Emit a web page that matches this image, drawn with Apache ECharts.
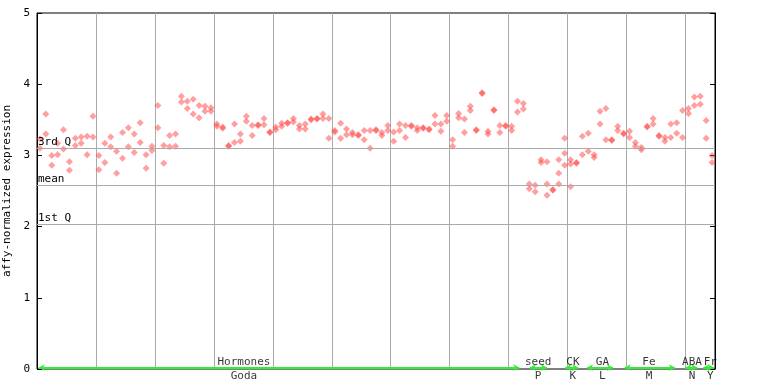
<!DOCTYPE html>
<html><head><meta charset="utf-8">
<script src="https://cdn.jsdelivr.net/npm/echarts/dist/echarts.min.js"></script>
<style>html,body{margin:0;padding:0;background:#fff}#c{width:768px;height:384px}</style>
</head><body><div id="c"></div>
<script>
// replicate values for each sample (column), left to right
const sampleValues = [
 [3.23,3.10],[3.58,3.30],[3.00,2.86],[3.17,3.01],[3.36,3.09],[2.91,2.79],[3.24,3.14],[3.26,3.17],[3.27,3.01],[3.55,3.26],
 [3.00,2.80],[3.17,2.90],[3.26,3.12],[3.06,2.75],[3.32,2.96],[3.39,3.12],[3.30,3.04],[3.46,3.18],[3.01,2.82],[3.13,3.07],
 [3.70,3.39],[3.14,2.89],[3.28,3.12],[3.30,3.13],[3.83,3.75],[3.76,3.66],[3.79,3.58],[3.70,3.53],[3.69,3.62],[3.67,3.62],
 [3.44,3.41],[3.40,3.38],[3.14,3.13],[3.44,3.18],[3.30,3.20],[3.55,3.48],[3.42,3.28],[3.43,3.42],[3.52,3.43],[3.33,3.32],
 [3.40,3.36],[3.45,3.41],[3.46,3.45],[3.52,3.47],[3.42,3.37],[3.44,3.37],[3.51,3.50],[3.52,3.51],[3.58,3.52],[3.52,3.24],
 [3.35,3.33],[3.45,3.24],[3.37,3.29],[3.32,3.29],[3.29,3.28],[3.35,3.22],[3.35,3.10],[3.36,3.35],[3.32,3.28],[3.42,3.35],
 [3.33,3.20],[3.44,3.35],[3.42,3.25],[3.42,3.41],[3.39,3.35],[3.39,3.38],[3.37,3.36],[3.56,3.44],[3.44,3.34],[3.56,3.48],
 [3.22,3.13],[3.59,3.53],[3.51,3.32],[3.69,3.63],[3.36,3.35],[3.88,3.87],[3.34,3.30],[3.64,3.63],[3.42,3.32],[3.42,3.41],
 [3.41,3.35],[3.76,3.61],[3.73,3.65],[2.60,2.53],[2.58,2.49],[2.94,2.90],[2.91,2.60,2.44],[2.52,2.51],[2.94,2.75,2.60],[3.24,3.03,2.86],
 [2.94,2.88,2.56],[2.90,2.89],[3.27,3.01],[3.31,3.06],[3.01,2.97],[3.62,3.44],[3.66,3.22],[3.22,3.21],[3.41,3.35],[3.31,3.30],
 [3.34,3.25],[3.18,3.13],[3.11,3.08],[3.41,3.40],[3.52,3.44],[3.28,3.27],[3.25,3.20],[3.44,3.25],[3.46,3.31],[3.63,3.25],
 [3.66,3.59],[3.82,3.70],[3.83,3.72],[3.49,3.24],[3.00,2.90]
];
const quartileNames = ['3rd Q','mean','1st Q'];
const quartileValues = [3.10, 2.58, 2.03];
const yTickValues = [0,1,2,3,4,5];
const groupUpper = ['Hormones','seed','CK','GA','Fe','ABA','Fr'];
const groupLower = ['Goda','P','K','L','M','N','Y'];
const groupLabelAt = [35.1, 85.0, 90.9, 95.9, 103.8, 111.1, 114.2];
const groupStart = [0.3, 83.6, 89.6, 93.3, 99.7, 110.0, 113.0];
const groupEnd   = [81.8, 86.5, 91.8, 97.7, 108.2, 112.0, 114.8];

const FONT = '"DejaVu Sans Mono", monospace';
const nCols = sampleValues.length;
const points = [];
sampleValues.forEach((vals, i) => vals.forEach(v => points.push([i + 0.5, v])));

const upperLabels = groupUpper.map((t, i) => ({value: [groupLabelAt[i], 0], name: t}));
const lowerLabels = groupLower.map((t, i) => ({value: [groupLabelAt[i], 0], name: t}));
const greenSegs = groupStart.map((s, i) => [{coord: [s, 0.02]}, {coord: [groupEnd[i], 0.02]}]);

const chart = echarts.init(document.getElementById('c'), null, {renderer: 'canvas'});
chart.setOption({
  animation: false,
  grid: {left: 37, right: 53, top: 13, bottom: 15, show: true, borderColor: '#000', borderWidth: 1,
         backgroundColor: 'transparent', containLabel: false, outerBoundsMode: 'none'},
  xAxis: {
    type: 'value', min: 0, max: nCols, interval: 10,
    axisLine: {show: false}, axisTick: {show: false}, axisLabel: {show: false},
    splitLine: {show: true, lineStyle: {color: '#aaaaaa', width: 1}}
  },
  yAxis: [{
    type: 'value', min: yTickValues[0], max: yTickValues[yTickValues.length - 1], interval: 1,
    name: 'affy-normalized expression', nameLocation: 'middle', nameGap: 17,
    nameTextStyle: {fontFamily: FONT, fontSize: 11, color: '#000'},
    axisLine: {show: true, lineStyle: {color: '#000'}},
    axisTick: {show: true, inside: true, length: 5, lineStyle: {color: '#000'}},
    axisLabel: {fontFamily: FONT, fontSize: 11, color: '#000', margin: 7},
    splitLine: {show: false}
  }, {
    type: 'value', position: 'right', min: 0, max: 5, interval: 1,
    axisLine: {show: true, lineStyle: {color: '#000'}},
    axisTick: {show: true, inside: true, length: 5, lineStyle: {color: '#000'}},
    axisLabel: {show: false}, splitLine: {show: false}
  }],
  series: [{
    type: 'scatter', data: [], z: 1, silent: true,
    markLine: {
      silent: true, symbol: 'none', animation: false,
      lineStyle: {color: '#aaaaaa', width: 1, type: 'solid'},
      label: {show: true, position: 'insideStartTop', distance: [1, 1], fontFamily: FONT, fontSize: 11, color: '#000',
              formatter: p => p.name},
      data: quartileValues.map((v, i) => ({yAxis: v, name: quartileNames[i]}))
    }
  }, {
    type: 'scatter', data: [], z: 4, silent: true,
    markLine: {
      silent: true, symbol: ['arrow', 'arrow'], symbolSize: [5, 6], animation: false,
      lineStyle: {color: '#33ee33', width: 2, type: 'solid'},
      label: {show: false},
      data: greenSegs
    }
  }, {
    type: 'scatter', data: points, z: 3, symbol: 'diamond', symbolSize: 7,
    itemStyle: {color: 'rgba(255,70,70,0.65)'}
  }, {
    type: 'scatter', data: upperLabels, z: 5, symbolSize: 0, silent: true,
    label: {show: true, position: 'top', distance: 1, formatter: p => p.name, fontFamily: FONT, fontSize: 11, color: '#000'}
  }, {
    type: 'scatter', data: lowerLabels, z: 5, symbolSize: 0, silent: true,
    label: {show: true, position: 'bottom', distance: 2, formatter: p => p.name, fontFamily: FONT, fontSize: 11, color: '#000'}
  }]
});
</script></body></html>
